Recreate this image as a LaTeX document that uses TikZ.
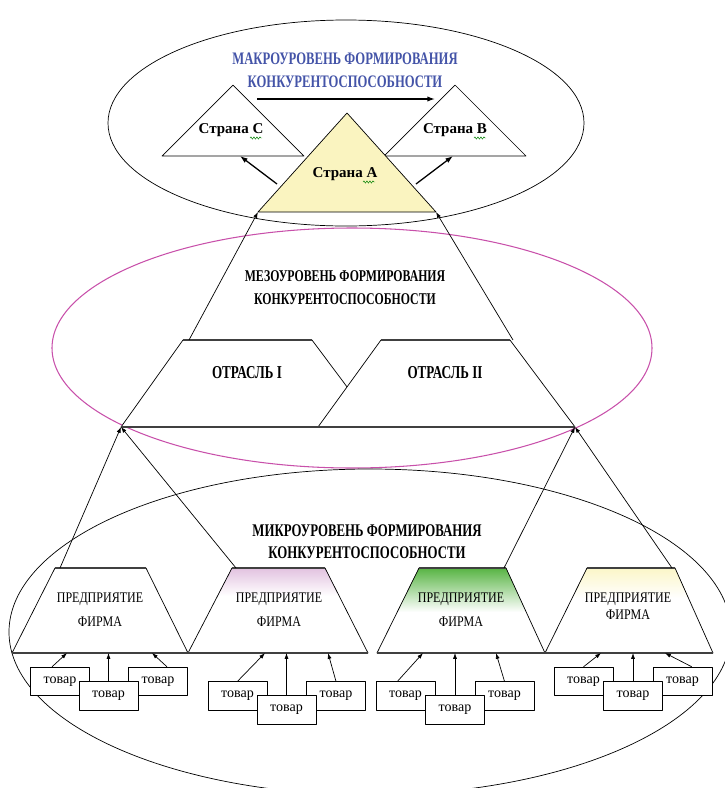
\documentclass[tikz,border=0pt]{standalone}
\usepackage{fontspec}
\setmainfont{Liberation Serif}
\newfontfamily\capsfont[FakeStretch=0.72]{Liberation Serif}
\newfontfamily\firmfont[FakeStretch=0.82]{Liberation Serif}
\usetikzlibrary{arrows.meta,decorations.pathmorphing}

\definecolor{macroblue}{RGB}{68,84,168}
\definecolor{mesopink}{RGB}{200,80,170}
\definecolor{countryfill}{RGB}{250,244,192}
\definecolor{firmpink}{RGB}{226,194,224}
\definecolor{firmgreen}{RGB}{88,180,68}
\definecolor{firmyellow}{RGB}{251,246,200}

\begin{document}
\begin{tikzpicture}[x=0.3mm, y=-0.3mm, line join=round,
	thinline/.style={line width=0.6pt},
	topedge/.style={line width=1.3pt, black!75},
	arrowup/.style={-{Latex[length=5pt,width=3.5pt]}, line width=0.6pt},
	bigarrow/.style={-{Latex[length=6.5pt,width=4.5pt]}, line width=1.1pt},
	leveltext/.style={font=\capsfont\bfseries\fontsize{15}{19.6}\selectfont, align=center, inner sep=0pt},
	branch/.style={font=\capsfont\bfseries\fontsize{15.5}{16}\selectfont, inner sep=0pt},
	country/.style={font=\bfseries\fontsize{12.8}{14}\selectfont, inner sep=0pt},
	firm/.style={font=\firmfont\fontsize{12.5}{20.4}\selectfont, align=center, inner sep=0pt},
	goods/.style={draw, fill=white, line width=0.6pt, minimum width=17.7mm, minimum height=8.6mm, inner sep=0pt, font=\fontsize{12}{14}\selectfont},
	spell/.style={draw=green!50!black, line width=0.4pt, decorate, decoration={snake, amplitude=0.35mm, segment length=0.9mm}}]

	\useasboundingbox (0,0) rectangle (725,788);

	%levels
	\draw[thinline] (346,123) ellipse [x radius=238, y radius=103];
	\draw[mesopink, line width=0.9pt] (352,348) ellipse [x radius=300, y radius=120];
	\draw[thinline] (370,632) ellipse [x radius=361, y radius=163];

	%macro level
	\node[leveltext, text=macroblue] (macro) at (345,70.5) {МАКРОУРОВЕНЬ ФОРМИРОВАНИЯ\\КОНКУРЕНТОСПОСОБНОСТИ};
	\coordinate (flowL) at (257,99);
	\coordinate (flowR) at (435,99);
	\draw[bigarrow] (flowL) -- (flowR);

	\draw[thinline, fill=white] (162,156) -- (233,85) -- (304,156) -- cycle;
	\draw[thinline, fill=white] (384,156) -- (455,85) -- (526,156) -- cycle;
	\draw[thinline, fill=countryfill] (258,212) -- (347,113) -- (436,212) -- cycle;
	\coordinate (Al) at (258,212);
	\coordinate (Ar) at (436,212);

	\node[country] (strC) at (231,130) {Страна С};
	\node[country] (strB) at (455,130) {Страна В};
	\node[country] (strA) at (345,174) {Страна А};
	\draw[spell] (250,138) -- (262,138);
	\draw[spell] (474,138) -- (486,138);
	\draw[spell] (363,182) -- (375,182);

	\coordinate (outC) at (277,184);
	\coordinate (outB) at (416,184);
	\coordinate (inC) at (240,156);
	\coordinate (inB) at (453,156);
	\draw[bigarrow] (outC) -- (inC);
	\draw[bigarrow] (outB) -- (inB);

	%meso level
	\node[leveltext, font=\capsfont\bfseries\fontsize{14}{19.6}\selectfont] (meso) at (345,288) {МЕЗОУРОВЕНЬ ФОРМИРОВАНИЯ\\КОНКУРЕНТОСПОСОБНОСТИ};
	\draw[thinline, fill=white] (121,427) -- (183,340) -- (312,340) -- (377,427) -- cycle;
	\draw[thinline, fill=white] (318,427) -- (381,340) -- (510,340) -- (575,427) -- cycle;
	\draw[topedge] (183,340) -- (312,340);
	\draw[topedge] (381,340) -- (510,340);
	\draw[topedge] (121,427) -- (575,427);
	\node[branch] (br1) at (247,373) {ОТРАСЛЬ I};
	\node[branch] (br2) at (445,373) {ОТРАСЛЬ II};

	\coordinate (mesoL) at (189,340);
	\coordinate (mesoR) at (513,340);
	\coordinate (mL) at (121,427);
	\coordinate (mR) at (575,427);
	\draw[arrowup] (mesoL) -- (Al);
	\draw[arrowup] (mesoR) -- (Ar);

	%micro level
	\node[leveltext, font=\capsfont\bfseries\fontsize{15.2}{18.7}\selectfont] (micro) at (367,542) {МИКРОУРОВЕНЬ ФОРМИРОВАНИЯ\\КОНКУРЕНТОСПОСОБНОСТИ};

	\draw[thinline, fill=white] (12,653) -- (55,568) -- (146,568) -- (188,653) -- cycle;
	\begin{scope}
		\clip (188,653) -- (232,568) -- (325,568) -- (368,653) -- cycle;
		\fill[top color=firmpink, bottom color=white] (180,568) rectangle (375,596);
	\end{scope}
	\draw[thinline] (188,653) -- (232,568) -- (325,568) -- (368,653) -- cycle;
	\begin{scope}
		\clip (377,653) -- (419,568) -- (506,568) -- (545,653) -- cycle;
		\fill[top color=firmgreen, middle color=firmgreen, bottom color=white] (370,568) rectangle (550,612);
	\end{scope}
	\draw[thinline] (377,653) -- (419,568) -- (506,568) -- (545,653) -- cycle;
	\begin{scope}
		\clip (545,653) -- (587,568) -- (675,568) -- (713,653) -- cycle;
		\fill[top color=firmyellow, bottom color=white] (540,568) rectangle (720,598);
	\end{scope}
	\draw[thinline] (545,653) -- (587,568) -- (675,568) -- (713,653) -- cycle;

	\draw[topedge] (55,568) -- (146,568);
	\draw[topedge] (232,568) -- (325,568);
	\draw[topedge] (419,568) -- (506,568);
	\draw[topedge] (587,568) -- (675,568);
	\draw[topedge, line width=1pt] (12,653) -- (368,653);
	\draw[topedge, line width=1pt] (377,653) -- (713,653);

	\node[firm] (f1) at (100,610) {ПРЕДПРИЯТИЕ\\ФИРМА};
	\node[firm] (f2) at (279,610) {ПРЕДПРИЯТИЕ\\ФИРМА};
	\node[firm] (f3) at (461,610) {ПРЕДПРИЯТИЕ\\ФИРМА};
	\node[firm, font=\firmfont\fontsize{12.5}{14.5}\selectfont] (f4) at (628,606.5) {ПРЕДПРИЯТИЕ\\ФИРМА};

	\coordinate (f1out) at (60,568);
	\coordinate (f2out) at (236,568);
	\coordinate (f3out) at (504,568);
	\coordinate (f4out) at (672,568);
	\draw[arrowup] (f1out) -- (mL);
	\draw[arrowup] (f2out) -- (mL);
	\draw[arrowup] (f3out) -- (mR);
	\draw[arrowup] (f4out) -- (mR);

	%goods
	\node[goods] (g11) at (60,681.5) {товар};
	\node[goods] (g13) at (158,681.5) {товар};
	\node[goods] (g12) at (108.5,696) {товар};
	\node[goods] (g21) at (237.5,696) {товар};
	\node[goods] (g23) at (336,696) {товар};
	\node[goods] (g22) at (286.5,710) {товар};
	\node[goods] (g31) at (405.5,696) {товар};
	\node[goods] (g33) at (504.5,696) {товар};
	\node[goods] (g32) at (455,710) {товар};
	\node[goods] (g41) at (583.5,681.5) {товар};
	\node[goods] (g43) at (682.5,681.5) {товар};
	\node[goods] (g42) at (633,696) {товар};

	\coordinate (t11) at (67,653);
	\coordinate (t12) at (108.5,653);
	\coordinate (t13) at (152,653);
	\coordinate (t21) at (265,653);
	\coordinate (t22) at (286.5,653);
	\coordinate (t23) at (328,653);
	\coordinate (t31) at (423,653);
	\coordinate (t32) at (455,653);
	\coordinate (t33) at (496,653);
	\coordinate (t41) at (601,653);
	\coordinate (t42) at (633,653);
	\coordinate (t43) at (665,653);

	\draw[arrowup] ([xshift=-2.4mm]g11.north) -- (t11);
	\draw[arrowup] (g12.north) -- (t12);
	\draw[arrowup] ([xshift=2.7mm]g13.north) -- (t13);
	\draw[arrowup] (g21.north) -- (t21);
	\draw[arrowup] (g22.north) -- (t22);
	\draw[arrowup] (g23.north) -- (t23);
	\draw[arrowup] ([xshift=-2.4mm]g31.north) -- (t31);
	\draw[arrowup] (g32.north) -- (t32);
	\draw[arrowup] (g33.north) -- (t33);
	\draw[arrowup] (g41.north) -- (t41);
	\draw[arrowup] (g42.north) -- (t42);
	\draw[arrowup] ([xshift=2.8mm]g43.north) -- (t43);
\end{tikzpicture}
\end{document}
